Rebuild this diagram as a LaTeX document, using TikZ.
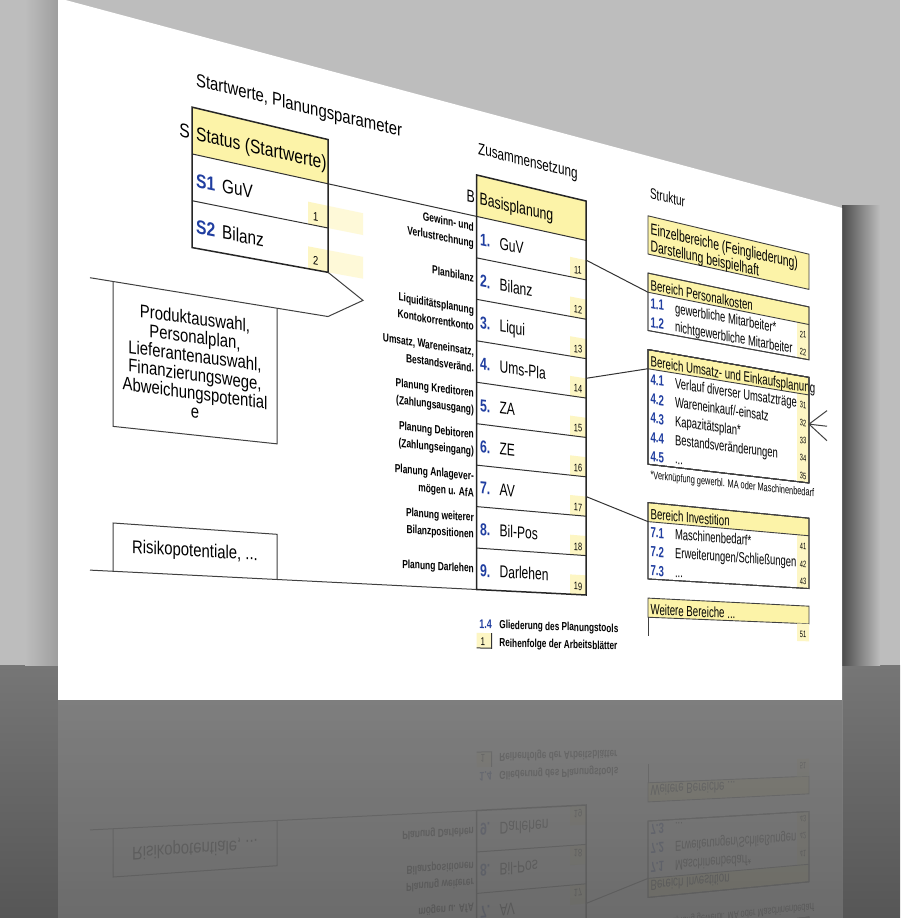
\documentclass[tikz,border=0pt]{standalone}
\usepackage{fontspec}
\setmainfont{Liberation Sans}
\usepackage{xcolor}

\definecolor{hdyellow}{RGB}{252,243,168}
\definecolor{cellyellow}{RGB}{253,246,196}
\definecolor{paleyellow}{RGB}{254,249,216}
\definecolor{idxblue}{RGB}{32,62,160}
\definecolor{bgtop}{RGB}{189,189,189}
\definecolor{floortop}{RGB}{118,118,118}
\definecolor{floorbot}{RGB}{86,86,86}
\definecolor{refltop}{RGB}{148,148,148}
\definecolor{reflbot}{RGB}{122,122,122}

% sheet coordinates: screen x, height q on the sheet (seen in perspective)
\makeatletter
\def\fl@parse#1,#2\fl@stop{\def\flX{#1}\def\flQ{#2}}
\tikzdeclarecoordinatesystem{flat}{%
  \fl@parse#1\fl@stop
  \pgfmathsetmacro\flY{700-(\flQ)*(1-0.000385*((\flX)-58))}%
  \pgfpointxy{\flX}{\flY}}
\makeatother

\newcommand\flatquad[4]{(flat cs:#1,#2) -- (flat cs:#3,#2) -- (flat cs:#3,#4) -- (flat cs:#1,#4) -- cycle}

\newcommand\flattext[4][]{%
  \pgfmathsetmacro\flh{1-0.000385*((#2)-58)}%
  \pgfmathsetmacro\flsx{0.85*\flh*\flh}%
  \pgfmathsetmacro\flsk{-0.000385*(#3)*\flsx}%
  \node[transform shape,cm={\flsx,\flsk,0,\flh,(0,0)},inner sep=0pt,anchor=base west,#1]
    at (flat cs:#2,#3) {#4};}

\tikzset{
  txt/.style={font=\fontsize{20.5}{22}\selectfont},
  ttl/.style={font=\fontsize{19.5}{22}\selectfont},
  boxtxt/.style={font=\fontsize{19.5}{19.8}\selectfont,align=center,anchor=center},
  idx/.style={font=\bfseries\fontsize{20.5}{22}\selectfont,text=idxblue},
  lbl/.style={font=\bfseries\fontsize{14}{16}\selectfont,anchor=base east},
  num/.style={font=\fontsize{13.5}{15}\selectfont},
  rtxt/.style={font=\fontsize{19}{21}\selectfont},
  ridx/.style={font=\bfseries\fontsize{19}{21}\selectfont,text=idxblue},
  rnum/.style={font=\fontsize{13}{15}\selectfont,anchor=base},
  note/.style={font=\fontsize{14.5}{16}\selectfont},
  boxline/.style={draw=black!85,line width=1.5pt},
  rowline/.style={draw=black!80,line width=1pt},
  thinline/.style={draw=black!75,line width=1pt},
  thinbox/.style={draw=black!75,line width=0.9pt},
}

\newcommand\slidecontent{%
% sheet
\fill[white] \flatquad{58}{0}{842}{702};

% column titles
\flattext[ttl]{196}{648}{Startwerte, Planungsparameter}
\flattext[ttl]{478}{650}{Zusammensetzung}
\flattext[ttl]{650}{648}{Struktur}

% status block
\fill[hdyellow] \flatquad{192}{575.5}{328}{624.8};
\fill[paleyellow] \flatquad{328}{526.2}{363}{550.9};
\fill[paleyellow] \flatquad{328}{476.8}{363}{501.5};
\fill[cellyellow] \flatquad{308}{526.2}{328}{550.9};
\fill[cellyellow] \flatquad{308}{476.8}{328}{501.5};
\draw[rowline] (flat cs:192,526.2) -- (flat cs:328,526.2);
\draw[rowline] (flat cs:192,575.5) -- (flat cs:328,575.5);
\draw[boxline] \flatquad{192}{476.8}{328}{624.8};
\flattext[txt,anchor=base east]{190}{591}{S}
\flattext[txt]{196}{591}{Status (Startwerte)}
\flattext[idx]{196}{541.5}{S1}
\flattext[txt]{222}{541.5}{GuV}
\flattext[idx]{196}{492}{S2}
\flattext[txt]{222}{492}{Bilanz}
\flattext[num]{313}{531.5}{1}
\flattext[num]{313}{482}{2}

% pointer to the planning inputs
\coordinate (chevtop) at (flat cs:328,476.8);
\coordinate (chevtip) at (flat cs:363,452.2);
\coordinate (chevbot) at (flat cs:328,427.5);
\coordinate (inputsW) at (flat cs:90,427.5);
\draw[thinline] (chevtop) -- (chevtip) -- (chevbot) -- (inputsW);

% planning inputs
\draw[thinline] (flat cs:113,427.5) -- (flat cs:113,279.5) -- (flat cs:277,279.5) -- (flat cs:277,427.5);
\flattext[boxtxt]{195}{353.5}{Produktauswahl,\\Personalplan,\\Lieferantenauswahl,\\Finanzierungswege,\\Abweichungspotential\\e}
\draw[thinline] (flat cs:113,131.5) -- (flat cs:113,180.8) -- (flat cs:277,180.8) -- (flat cs:277,131.5);
\flattext[boxtxt]{195}{156.2}{Risikopotentiale, ...}
\coordinate (riskW) at (flat cs:90,131.5);
\coordinate (basisSW) at (flat cs:476.7,131.5);
\draw[thinline] (riskW) -- (basisSW);

% basisplanung
\fill[hdyellow] \flatquad{476.7}{575.5}{586}{624.8};
\foreach \r in {0,...,8}{
  \pgfmathsetmacro\rb{131.5+49.33*\r}
  \fill[cellyellow] \flatquad{570}{\rb}{586}{\rb+24.6};
}
\foreach \r in {1,...,8}{
  \pgfmathsetmacro\rb{131.5+49.33*\r}
  \draw[rowline] (flat cs:476.7,\rb) -- (flat cs:586,\rb);
}
\coordinate (stathd) at (flat cs:328,575.5);
\coordinate (basishd) at (flat cs:476.7,575.5);
\draw[rowline] (stathd) -- (basishd) -- (flat cs:586,575.5);
\draw[boxline] \flatquad{476.7}{131.5}{586}{624.8};
\flattext[txt,anchor=base east]{475}{590}{B}
\flattext[txt]{479.5}{590}{Basisplanung}
\foreach \t [count=\i] in {GuV,Bilanz,Liqui,Ums-Pla,ZA,ZE,AV,Bil-Pos,Darlehen}{
  \pgfmathsetmacro\rb{575.5-49.33*\i}
  \pgfmathtruncatemacro\nr{10+\i}
  \flattext[idx]{480}{\rb+15.5}{\i.}
  \flattext[txt]{499.5}{\rb+15.5}{\t}
  \flattext[num,anchor=base]{578}{\rb+5.5}{\nr}
}

% what each sheet plans
\flattext[lbl]{474}{557.3}{Gewinn- und}
\flattext[lbl]{474}{537.5}{Verlustrechnung}
\flattext[lbl]{474}{497}{Planbilanz}
\flattext[lbl]{474}{458.7}{Liquiditätsplanung}
\flattext[lbl]{474}{438.9}{Kontokorrentkonto}
\flattext[lbl]{474}{409.3}{Umsatz, Wareneinsatz,}
\flattext[lbl]{474}{389.5}{Bestandsveränd.}
\flattext[lbl]{474}{360}{Planung Kreditoren}
\flattext[lbl]{474}{340.2}{(Zahlungsausgang)}
\flattext[lbl]{474}{310.7}{Planung Debitoren}
\flattext[lbl]{474}{290.9}{(Zahlungseingang)}
\flattext[lbl]{474}{261.3}{Planung Anlagever-}
\flattext[lbl]{474}{241.5}{mögen u. AfA}
\flattext[lbl]{474}{212}{Planung weiterer}
\flattext[lbl]{474}{192.2}{Bilanzpositionen}
\flattext[lbl]{474}{151.7}{Planung Darlehen}

% structure column
\fill[hdyellow] \flatquad{648}{575.5}{809}{624.8};
\draw[thinbox] \flatquad{648}{575.5}{809}{624.8};
\flattext[txt]{650.5}{601}{Einzelbereiche (Feingliederung)}
\flattext[txt]{650.5}{579}{Darstellung beispielhaft}

% Bereich Personalkosten
\fill[hdyellow] \flatquad{648}{526.2}{809}{550.9};
\flattext[rtxt]{650.5}{529.5}{Bereich Personalkosten}
\foreach \a/\t [count=\k] in {1.1/{gewerbliche Mitarbeiter*},1.2/{nichtgewerbliche Mitarbeiter}}{
  \flattext[ridx]{650.5}{526.2-24.66*\k+4.5}{\a}
  \flattext[rtxt]{675}{526.2-24.66*\k+4.5}{\t}
}
\fill[cellyellow] \flatquad{797}{476.8}{809}{526.2};
\foreach \n [count=\k] in {21,22}
  \flattext[rnum]{803}{526.2-24.66*\k+4.5}{\n}
\draw[thinbox] \flatquad{648}{476.8}{809}{550.9};
\draw[thinbox] (flat cs:648,526.2) -- (flat cs:809,526.2);

% Bereich Umsatz- und Einkaufsplanung
\fill[hdyellow] \flatquad{648}{427.5}{809}{452.2};
\flattext[rtxt]{650.5}{430.8}{Bereich Umsatz- und Einkaufsplanung}
\foreach \a/\t [count=\k] in {4.1/{Verlauf diverser Umsatzträger},4.2/{Wareneinkauf/-einsatz},
    4.3/{Kapazitätsplan*},4.4/{Bestandsveränderungen},4.5/{...}}{
  \flattext[ridx]{650.5}{427.5-24.66*\k+4.5}{\a}
  \flattext[rtxt]{675}{427.5-24.66*\k+4.5}{\t}
}
\fill[cellyellow] \flatquad{797}{304.2}{809}{427.5};
\foreach \n [count=\k] in {31,...,35}
  \flattext[rnum]{803}{427.5-24.66*\k+4.5}{\n}
\draw[thinbox] \flatquad{648}{304.2}{809}{452.2};
\draw[thinbox] (flat cs:648,427.5) -- (flat cs:809,427.5);
\flattext[note]{650.5}{285.6}{*Verknüpfung gewerbl. MA oder Maschinenbedarf}

% crow foot at row 32
\coordinate (foot) at (flat cs:809,386.6);
\coordinate (footA) at (flat cs:827,409.5);
\coordinate (footB) at (flat cs:827,387.4);
\coordinate (footC) at (flat cs:827,366.9);
\draw[thinline] (footA) -- (foot) -- (footC) (foot) -- (footB);

% Bereich Investition
\fill[hdyellow] \flatquad{648}{230.2}{809}{254.8};
\flattext[rtxt]{650.5}{233.5}{Bereich Investition}
\foreach \a/\t [count=\k] in {7.1/{Maschinenbedarf*},7.2/{Erweiterungen/Schließungen},7.3/{...}}{
  \flattext[ridx]{650.5}{230.2-24.66*\k+4.5}{\a}
  \flattext[rtxt]{675}{230.2-24.66*\k+4.5}{\t}
}
\fill[cellyellow] \flatquad{797}{156.2}{809}{230.2};
\foreach \n [count=\k] in {41,42,43}
  \flattext[rnum]{803}{230.2-24.66*\k+4.5}{\n}
\draw[thinbox] \flatquad{648}{156.2}{809}{254.8};
\draw[thinbox] (flat cs:648,230.2) -- (flat cs:809,230.2);

% Weitere Bereiche
\fill[hdyellow] \flatquad{648}{106.8}{809}{131.5};
\draw[thinbox] \flatquad{648}{106.8}{809}{131.5};
\flattext[rtxt]{650.5}{110}{Weitere Bereiche ...}
\fill[cellyellow] \flatquad{797}{82.2}{809}{106.8};
\flattext[rnum]{803}{86.7}{51}
\draw[thinbox] (flat cs:648,106.8) -- (flat cs:648,82.2);

% links from the basis sheets to the structure boxes
\coordinate (guvcell) at (flat cs:586,550.9);
\coordinate (umsrow) at (flat cs:586,402.8);
\coordinate (avrow) at (flat cs:586,254.8);
\coordinate (perskopf) at (flat cs:648,526.2);
\coordinate (umskopf) at (flat cs:648,427.5);
\coordinate (invkopf) at (flat cs:648,230.2);
\draw[rowline] (guvcell) -- (perskopf);
\draw[rowline] (umsrow) -- (umskopf);
\draw[rowline] (avrow) -- (invkopf);

% legend
\flattext[idx,font=\bfseries\fontsize{15}{17}\selectfont]{479.3}{85.8}{1.4}
\flattext[lbl,anchor=base west]{499.3}{85.8}{Gliederung des Planungstools}
\fill[cellyellow] \flatquad{476.7}{62}{491.7}{80};
\draw[rowline] (flat cs:491.7,80) -- (flat cs:491.7,62) -- (flat cs:476.7,62);
\flattext[num]{480.5}{65.5}{1}
\flattext[lbl,anchor=base west]{499.3}{64}{Reihenfolge der Arbeitsblätter}
}

\begin{document}
\begin{tikzpicture}[x=1pt,y=-1pt]
\useasboundingbox (0,0) rectangle (900,918);

% backdrop and floor
\fill[bgtop] (0,0) rectangle (900,665);
\shade[top color=floortop,bottom color=floorbot] (0,665) rectangle (900,918);

% shadows beside the sheet
\shade[left color=bgtop,right color=black!38] (25,0) rectangle (58,665);
\shade[left color=black!70,right color=bgtop] (842,205) rectangle (880,665);

% the sheet
\slidecontent

% mirror image on the floor
\begin{scope}
  \clip (58,700) rectangle (842,918);
  \begin{scope}[shift={(0,1400)},yscale=-1]
    \slidecontent
  \end{scope}
  \fill[top color=refltop,bottom color=reflbot,fill opacity=0.72] (58,700) rectangle (842,918);
\end{scope}

\end{tikzpicture}
\end{document}
